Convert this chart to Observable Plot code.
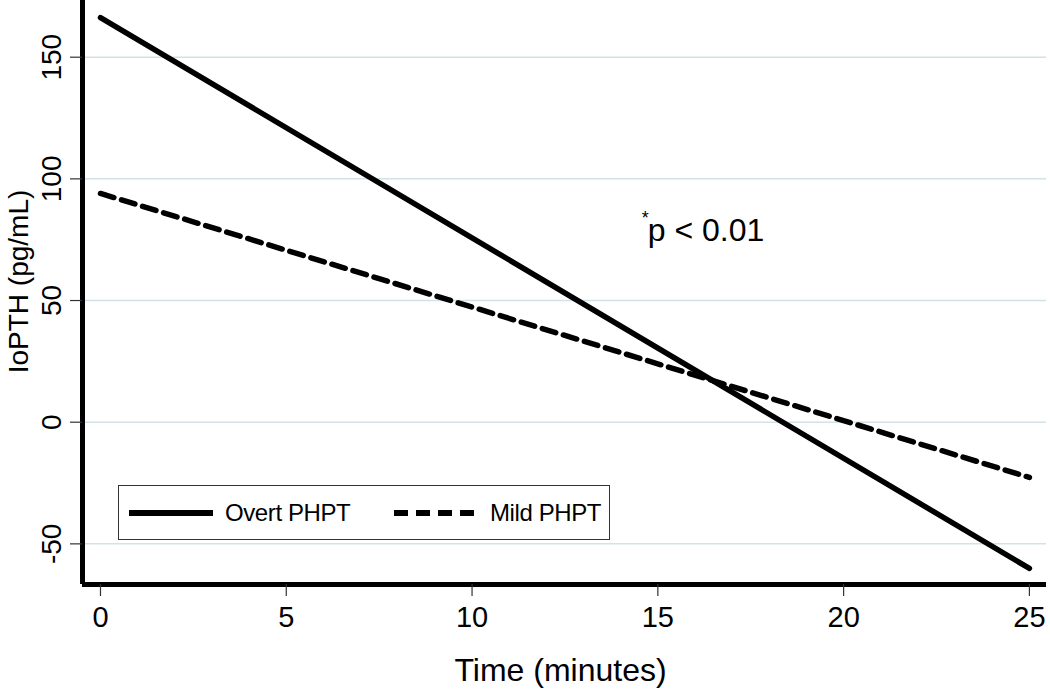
<!DOCTYPE html>
<html>
<head>
<meta charset="utf-8">
<script src="https://cdn.jsdelivr.net/npm/d3@7"></script>
<script src="https://cdn.jsdelivr.net/npm/@observablehq/plot@0.6"></script>
<style>
  html, body { margin: 0; padding: 0; background: #fff; }
  #wrap { position: relative; width: 1050px; height: 689px; font-family: "Liberation Sans", Arial, sans-serif; }
  #legend { position: absolute; left: 118px; top: 485px; width: 490px; height: 53px; border: 1.5px solid #333; background: #fff; box-sizing: content-box; }
  #legend .item { position: absolute; top: 0; height: 53px; display: flex; align-items: center; font-size: 24px; letter-spacing: -0.4px; color: #000; white-space: nowrap; }
  #legend svg { margin-right: 12px; flex: none; }
</style>
</head>
<body>
<div id="wrap"></div>
<script>
// ---- data ----
const times = [0, 25];
const overtValues = [166.3, -60.1];
const mildValues = [94.0, -22.7];
const seriesNames = ["Overt PHPT", "Mild PHPT"];
const xTicks = [0, 5, 10, 15, 20, 25];
const yTicks = [-50, 0, 50, 100, 150];
const xLabel = "Time (minutes)";
const yLabel = "IoPTH (pg/mL)";
const annotation = "p < 0.01";

const xDomain = [-0.484, 25.46];
const yDomain = [-66.7, 173.3];

const rows = [];
times.forEach((t, i) => {
  rows.push({series: seriesNames[0], t, v: overtValues[i]});
  rows.push({series: seriesNames[1], t, v: mildValues[i]});
});

const font = "Liberation Sans, Arial, sans-serif";

const chart = Plot.plot({
  width: 1050,
  height: 689,
  marginLeft: 82,
  marginRight: 4,
  marginTop: 0,
  marginBottom: 105,
  style: {fontFamily: font, background: "#fff", color: "#000", overflow: "visible"},
  x: {domain: xDomain, ticks: xTicks, label: null},
  y: {domain: yDomain, ticks: yTicks, label: null},
  marks: [
    Plot.gridY(yTicks, {stroke: "#d3e2e6", strokeOpacity: 1, strokeWidth: 1.5}),
    Plot.line(rows.filter(d => d.series === seriesNames[0]), {x: "t", y: "v", stroke: "#000", strokeWidth: 5.5, strokeLinecap: "round"}),
    Plot.line(rows.filter(d => d.series === seriesNames[1]), {x: "t", y: "v", stroke: "#000", strokeWidth: 5.5, strokeDasharray: "14,8"}),
    Plot.ruleX([xDomain[0]], {stroke: "#000", strokeWidth: 5}),
    Plot.ruleY([yDomain[0]], {stroke: "#000", strokeWidth: 5, x1: xDomain[0] , x2: xDomain[1]}),
    Plot.axisX(xTicks, {label: null, tickSize: 12, tickPadding: 10, fontSize: 29, stroke: "#333", strokeWidth: 1.2, fill: "#000"}),
    Plot.axisY(yTicks, {label: null, tickSize: 12, text: null, stroke: "#333", strokeWidth: 1.2}),
    Plot.text(yTicks, {y: d => d, frameAnchor: "left", dx: -22, rotate: -90, lineAnchor: "bottom", textAnchor: "middle", fontSize: 28, fill: "#000"}),
    Plot.text([xLabel], {frameAnchor: "bottom", dx: -4, dy: 96, lineAnchor: "bottom", fontSize: 32, fill: "#000"}),
    Plot.text([yLabel], {frameAnchor: "left", dx: -55, dy: -11, rotate: -90, lineAnchor: "bottom", textAnchor: "middle", fontSize: 28, fill: "#000"}),
    Plot.text([annotation], {x: 14.73, y: 74.6, lineAnchor: "bottom", textAnchor: "start", fontSize: 32, fill: "#000"}),
    Plot.text(["*"], {x: 14.73, y: 74.6, dx: -6, dy: -17, lineAnchor: "bottom", textAnchor: "start", fontSize: 18, fill: "#000"})
  ]
});

const wrap = document.getElementById("wrap");
wrap.appendChild(chart);

// legend (inside plot area, like the reference)
const legend = document.createElement("div");
legend.id = "legend";
const items = [
  {name: seriesNames[0], left: 10, dash: null},
  {name: seriesNames[1], left: 275, dash: "14,8"}
];
items.forEach(it => {
  const d = document.createElement("div");
  d.className = "item";
  d.style.left = it.left + "px";
  d.innerHTML = `<svg width="84" height="12"><line x1="0" y1="6" x2="84" y2="6" stroke="#000" stroke-width="6" ${it.dash ? `stroke-dasharray="${it.dash}"` : ""}/></svg><span>${it.name}</span>`;
  legend.appendChild(d);
});
wrap.appendChild(legend);
</script>
</body>
</html>
